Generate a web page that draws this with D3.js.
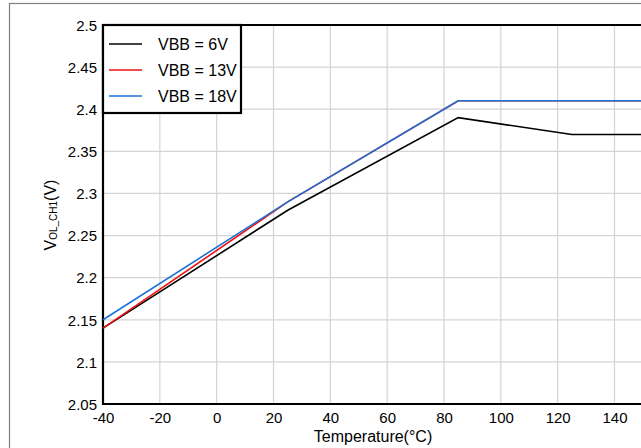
<!DOCTYPE html>
<html><head><meta charset="utf-8">
<script src="https://cdn.jsdelivr.net/npm/d3@7"></script>
<style>
html,body{margin:0;padding:0;background:#fff;overflow:hidden}
text{font-family:"Liberation Sans",Arial,sans-serif;fill:#000}
</style></head><body>
<svg id="c" width="641" height="448"></svg>
<script>
const temps6 = [-40, 25, 85, 125, 150];
const vbb6 = [2.14, 2.28, 2.39, 2.37, 2.37];
const temps13 = [-40, 25, 85, 150];
const vbb13 = [2.14, 2.29, 2.41, 2.41];
const temps18 = [-40, 25, 85, 150];
const vbb18 = [2.15, 2.29, 2.41, 2.41];
const seriesNames = ["VBB = 6V", "VBB = 13V", "VBB = 18V"];
const seriesColors = ["#000000", "#f01010", "#1872d8"];
const xTicks = [-40, -20, 0, 20, 40, 60, 80, 100, 120, 140];
const yTicks = [2.05, 2.1, 2.15, 2.2, 2.25, 2.3, 2.35, 2.4, 2.45, 2.5];

const svg = d3.select("#c");
const L = 103, T = 25, B = 404;
const x = d3.scaleLinear().domain([-40, 150]).range([L, L + 190 * 341 / 120]);
const y = d3.scaleLinear().domain([2.05, 2.5]).range([B, T]);

// outer frame
svg.append("rect").attr("x", 9.5).attr("y", 3.5).attr("width", 700).attr("height", 500)
  .attr("fill", "none").attr("stroke", "#7f7f7f").attr("stroke-width", 1.2);

// gridlines
const g = svg.append("g");
g.selectAll("line.vx").data(xTicks.slice(1)).join("line")
  .attr("x1", d => x(d)).attr("x2", d => x(d)).attr("y1", T).attr("y2", B)
  .attr("stroke", "#d4d4d4").attr("stroke-width", 1.2);
g.selectAll("line.hy").data(yTicks.slice(1, -1)).join("line")
  .attr("x1", L).attr("x2", 641).attr("y1", d => y(d)).attr("y2", d => y(d))
  .attr("stroke", "#d4d4d4").attr("stroke-width", 1.2);

// axes
const xAxis = d3.axisBottom(x).tickValues(xTicks).tickSize(0).tickPadding(8).tickFormat(d => String(d));
const yAxis = d3.axisLeft(y).tickValues(yTicks).tickSize(0).tickPadding(6).tickFormat(d => String(+d.toFixed(2)));
const gx = svg.append("g").attr("transform", `translate(0,${B})`).call(xAxis);
const gy = svg.append("g").attr("transform", `translate(${L},0)`).call(yAxis);
[gx, gy].forEach(a => {
  a.select(".domain").remove();
  a.selectAll("text").attr("font-size", 15).attr("font-family", "Liberation Sans, Arial, sans-serif");
});
gy.selectAll("text").attr("dy", "0.35em");

// plot borders
svg.append("line").attr("x1", L).attr("x2", 641).attr("y1", T).attr("y2", T).attr("stroke", "#000").attr("stroke-width", 2.2);
svg.append("line").attr("x1", L).attr("x2", 641).attr("y1", B).attr("y2", B).attr("stroke", "#000").attr("stroke-width", 2.2);
svg.append("line").attr("x1", L).attr("x2", L).attr("y1", T - 1).attr("y2", B + 1).attr("stroke", "#000").attr("stroke-width", 2.2);

// lines
const line = d3.line().x(d => x(d[0])).y(d => y(d[1]));
const data = [d3.zip(temps6, vbb6), d3.zip(temps13, vbb13), d3.zip(temps18, vbb18)];
svg.append("clipPath").attr("id", "cp").append("rect").attr("x", L).attr("y", T).attr("width", 641 - L).attr("height", B - T);
svg.append("g").attr("clip-path", "url(#cp)").selectAll("path").data(data).join("path")
  .attr("d", line).attr("fill", "none")
  .attr("stroke", (d, i) => seriesColors[i]).attr("stroke-width", 1.6);

// legend
const lg = svg.append("g");
lg.append("rect").attr("x", L).attr("y", T).attr("width", 138).attr("height", 88)
  .attr("fill", "#fff").attr("stroke", "#000").attr("stroke-width", 2.2);
seriesNames.forEach((n, i) => {
  const yy = 44 + i * 26;
  lg.append("line").attr("x1", 109).attr("x2", 142).attr("y1", yy).attr("y2", yy)
    .attr("stroke", seriesColors[i]).attr("stroke-width", 1.6);
  lg.append("text").attr("x", 158).attr("y", yy).attr("dy", "0.35em").attr("font-size", 16).text(n);
});

// axis titles
svg.append("text").attr("x", 373).attr("y", 442).attr("text-anchor", "middle").attr("font-size", 16).text("Temperature(°C)");
const yt = svg.append("text").attr("transform", "translate(56,215) rotate(-90)").attr("text-anchor", "middle").attr("font-size", 16);
yt.append("tspan").text("V");
yt.append("tspan").attr("font-size", 10).attr("dy", 1).text("OL_CH1");
yt.append("tspan").attr("dy", -1).text("(V)");
</script>
</body></html>
